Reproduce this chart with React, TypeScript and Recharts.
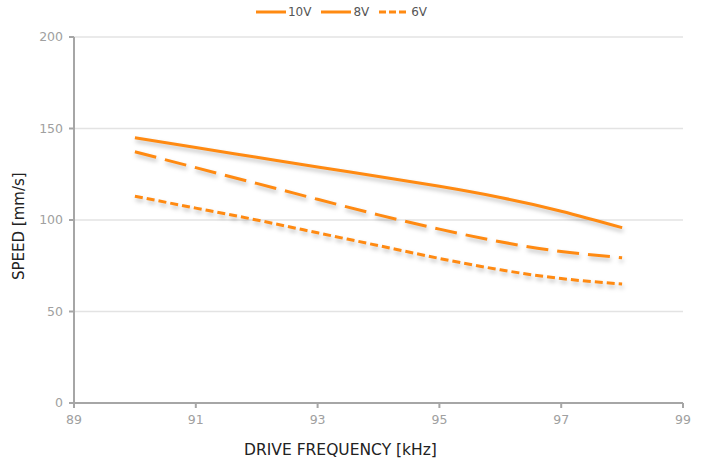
import { LineChart, Line, XAxis, YAxis, CartesianGrid, Legend } from 'recharts';

const freqs = [90, 91, 92, 93, 94, 95, 96, 97, 98];
const speed10V = [145, 139.6, 134.3, 129, 123.8, 118.4, 112.3, 104.8, 95.8];
const speed8V = [137.3, 128.6, 120, 111.3, 102.8, 95, 88.1, 82.8, 79.4];
const speed6V = [113, 106.5, 100, 93, 86, 79, 72.8, 68, 65];
const xTicks = [89, 91, 93, 95, 97, 99];
const yTicks = [0, 50, 100, 150, 200];

const data = freqs.map((f, i) => ({ freq: f, v10: speed10V[i], v8: speed8V[i], v6: speed6V[i] }));

const ORANGE = '#FF8A12';
const FONT = '"DejaVu Sans", Verdana, sans-serif';
const shadow = { filter: 'drop-shadow(1px 3px 2px rgba(0,0,0,0.25))' };

const series = [
    { key: 'v10', name: '10V', dash: undefined, legendDash: undefined },
    { key: 'v8', name: '8V', dash: '22 9', legendDash: undefined },
    { key: 'v6', name: '6V', dash: '8 4', legendDash: '7 3' },
];

function LegendContent() {
    return (
        <div style={{ display: 'flex', justifyContent: 'center', gap: 10, fontFamily: FONT, fontSize: 12, color: '#555' }}>
            {series.map((s) => (
                <div key={s.key} style={{ display: 'flex', alignItems: 'center', gap: 2 }}>
                    <svg width={30} height={6}>
                        <line x1={0} y1={3} x2={30} y2={3} stroke={ORANGE} strokeWidth={3} strokeDasharray={s.legendDash} />
                    </svg>
                    <span>{s.name}</span>
                </div>
            ))}
        </div>
    );
}

export default function App() {
    return (
        <div style={{ position: 'absolute', left: 0, top: 0, width: 704, height: 459, background: '#fff' }}>
            <LineChart width={704} height={459} data={data} margin={{ top: 5, right: 21, bottom: 0, left: 0 }}>
                <CartesianGrid vertical={false} stroke="#e3e3e3" strokeWidth={1.5} />
                <Legend verticalAlign="top" height={32} content={<LegendContent />} />
                <XAxis
                    dataKey="freq"
                    type="number"
                    domain={[89, 99]}
                    ticks={xTicks}
                    height={56}
                    stroke="#a6a6a6"
                    strokeWidth={2}
                    tickSize={5}
                    tick={{ fill: '#a0a0a0', fontSize: 12.5, fontFamily: FONT }}
                    tickMargin={7}
                    label={{ value: 'DRIVE FREQUENCY [kHz]', position: 'insideBottom', dx: -38, offset: 4, fill: '#222', fontSize: 15.5, fontFamily: FONT }}
                />
                <YAxis
                    type="number"
                    domain={[0, 200]}
                    ticks={yTicks}
                    width={74}
                    stroke="#a6a6a6"
                    strokeWidth={2}
                    tickSize={5}
                    tick={{ fill: '#a0a0a0', fontSize: 12.5, fontFamily: FONT }}
                    tickMargin={6}
                    label={{ value: 'SPEED [mm/s]', angle: -90, position: 'insideLeft', dx: 14, dy: 60, fill: '#222', fontSize: 15, fontFamily: FONT }}
                />
                {series.map((s) => (
                    <Line
                        key={s.key}
                        type="natural"
                        dataKey={s.key}
                        name={s.name}
                        stroke={ORANGE}
                        strokeWidth={3}
                        strokeDasharray={s.dash}
                        dot={false}
                        style={shadow}
                        isAnimationActive={false}
                    />
                ))}
            </LineChart>
        </div>
    );
}
